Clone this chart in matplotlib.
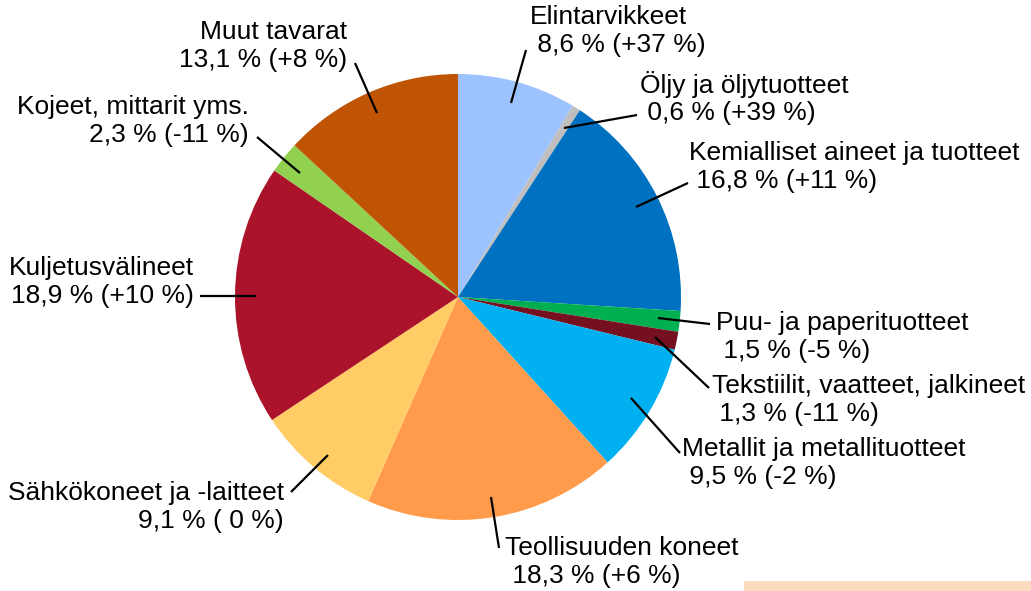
import matplotlib
matplotlib.use("Agg")
import matplotlib.pyplot as plt
from matplotlib.patches import Rectangle

# ---- data ----
categories = ["Elintarvikkeet", "Öljy ja öljytuotteet", "Kemialliset aineet ja tuotteet",
              "Puu- ja paperituotteet", "Tekstiilit, vaatteet, jalkineet",
              "Metallit ja metallituotteet", "Teollisuuden koneet",
              "Sähkökoneet ja -laitteet", "Kuljetusvälineet",
              "Kojeet, mittarit yms.", "Muut tavarat"]
shares = [8.6, 0.6, 16.8, 1.5, 1.3, 9.5, 18.3, 9.1, 18.9, 2.3, 13.1]
changes = ["+37", "+39", "+11", "-5", "-11", "-2", "+6", " 0", "+10", "-11", "+8"]
colors = ["#9DC3FF", "#BFBFBF", "#0070C0", "#00B050", "#751020", "#00B0F0",
          "#FF9B4B", "#FFCC66", "#AA132A", "#92D050", "#BF5504"]

# ---- layout (pixel coords from top-left) ----
W, H = 1031, 591
cx, cy, R = 458, 297, 223
# text anchor (x, y-middle of two lines), alignment, leader line (from, to)
label_pos = [
    ((530, 31), "left", (511, 103), (526, 50)),
    ((640, 98), "left", (564, 128), (637, 115)),
    ((689, 167), "left", (636, 207), (688, 183)),
    ((716, 337), "left", (658, 318), (710, 324)),
    ((712, 400), "left", (655, 337), (709, 388)),
    ((682, 463), "left", (631, 398), (680, 453)),
    ((505, 562), "left", (491, 497), (499, 548)),
    ((284, 507), "right", (328, 455), (291, 492)),
    ((194, 282), "right", (256, 296), (200, 296)),
    ((249, 121), "right", (300, 173), (257, 137)),
    ((347, 46), "right", (377, 113), (355, 63)),
]

def Y(y):
    return H - y

plt.rcParams['font.family'] = ['Liberation Sans', 'DejaVu Sans']
fig = plt.figure(figsize=(W / 100, H / 100), dpi=100)
ax = fig.add_axes([0, 0, 1, 1])

ax.pie(shares, colors=colors, startangle=90, counterclock=False,
       center=(cx, Y(cy)), radius=R, frame=True,
       wedgeprops=dict(linewidth=0))
ax.set_xlim(0, W)
ax.set_ylim(0, H)
ax.set_aspect('equal')
ax.axis('off')

for cat, s, ch, (pos, ha, p0, p1) in zip(categories, shares, changes, label_pos):
    val = f"{s:.1f}".replace(".", ",") + f" % ({ch} %)"
    if ha == "left":
        txt = f"{cat}\n {val}"
    else:
        txt = f"{cat}\n{val}"
    ax.text(pos[0], Y(pos[1]), txt, ha=ha, va='center', multialignment=ha,
            fontsize=19, linespacing=1.18, color='black')
    ax.plot([p0[0], p1[0]], [Y(p0[1]), Y(p1[1])], color='black', lw=1.6,
            solid_capstyle='butt')

ax.add_patch(Rectangle((744, 0), W - 744, 10, facecolor='#FDDBBF',
                       edgecolor='none'))

fig.savefig("out.png", dpi=100)
